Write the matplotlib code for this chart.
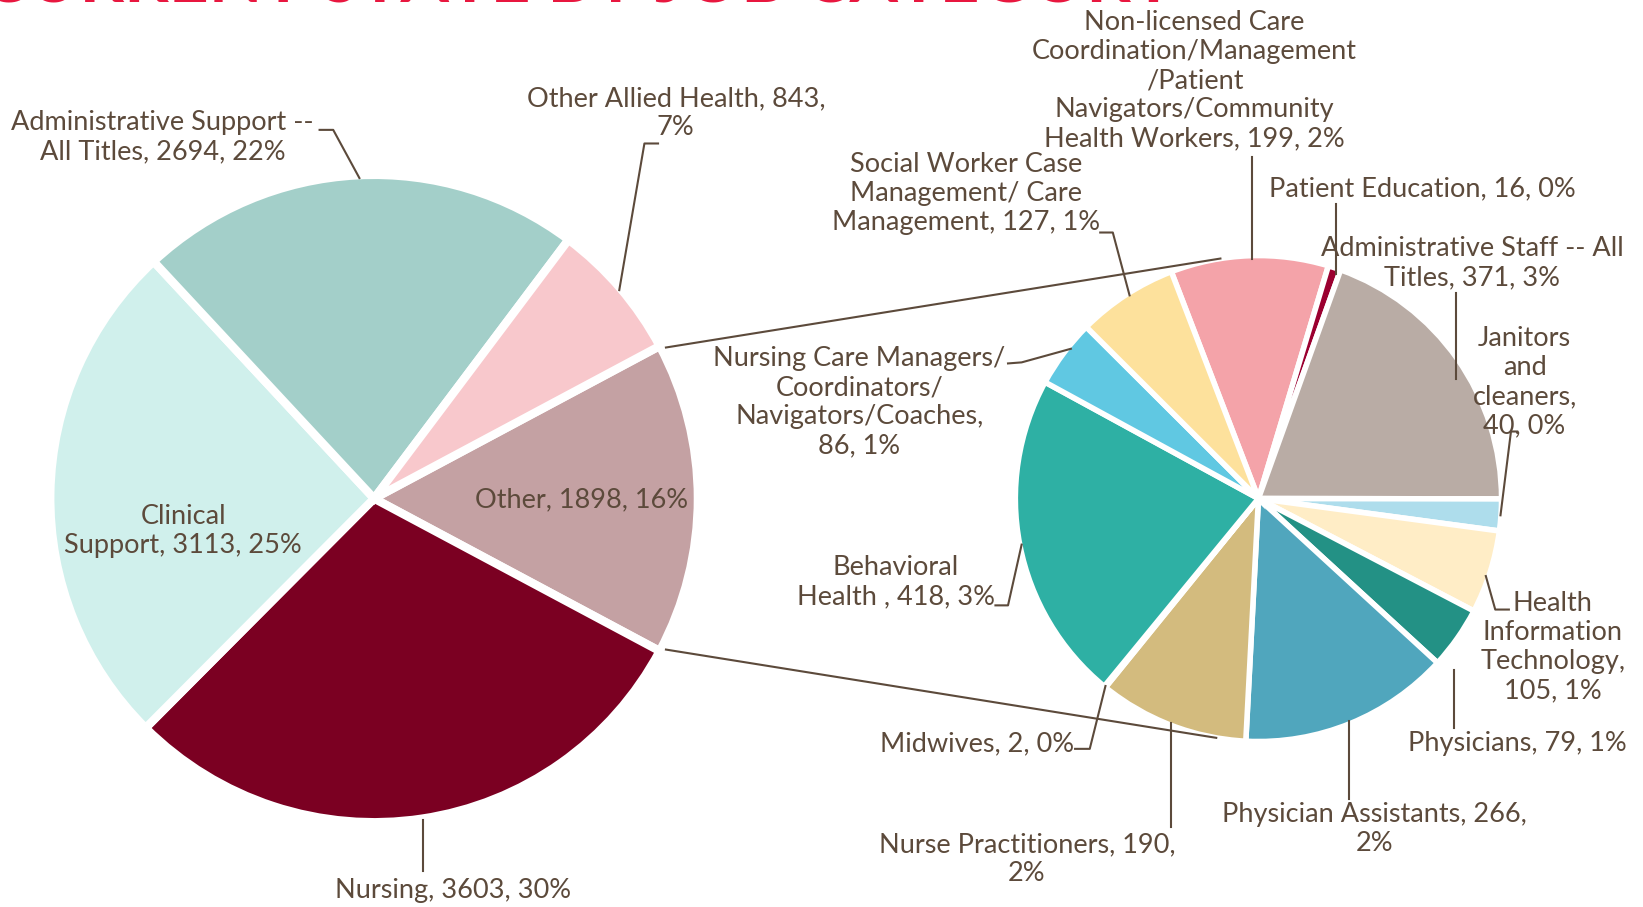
import matplotlib
matplotlib.use("Agg")
import matplotlib.pyplot as plt
import numpy as np

# main pie
main_names = ["Other", "Nursing", "Clinical Support", "Administrative Support -- All Titles", "Other Allied Health"]
main_values = [1898, 3603, 3113, 2694, 843]
main_pcts = [16, 30, 25, 22, 7]
main_colors = ["#C4A1A3", "#7B0022", "#D0F0EC", "#A3CFC9", "#F8C8CC"]

# breakdown of "Other"
sub_names = ["Non-licensed Care Coordination/Management/Patient Navigators/Community Health Workers",
             "Patient Education", "Administrative Staff -- All Titles", "Janitors and cleaners",
             "Health Information Technology", "Physicians", "Physician Assistants",
             "Nurse Practitioners", "Midwives", "Behavioral Health",
             "Nursing Care Managers/ Coordinators/ Navigators/Coaches",
             "Social Worker Case Management/ Care Management"]
sub_values = [199, 16, 371, 40, 105, 79, 266, 190, 2, 418, 86, 127]
sub_pcts = [2, 0, 3, 0, 1, 1, 2, 2, 0, 3, 1, 1]
sub_colors = ["#F4A3A9", "#9B0030", "#B9ACA5", "#AEDDEC", "#FFEDC6", "#239185",
              "#50A6BD", "#D3BB7E", "#F4A3A9", "#2EB0A4", "#60C8E2", "#FDE19C"]

# label text templates (line breaks as in the chart)
main_fmt = ["Other, {v}, {p}%", "Nursing, {v}, {p}%", "Clinical\nSupport, {v}, {p}%",
            "Administrative Support --\nAll Titles, {v}, {p}%", "Other Allied Health, {v},\n{p}%"]
sub_fmt = ["Non-licensed Care\nCoordination/Management\n/Patient\nNavigators/Community\nHealth Workers, {v}, {p}%",
           "Patient Education, {v}, {p}%",
           "Administrative Staff -- All\nTitles, {v}, {p}%",
           "Janitors\nand\ncleaners,\n{v}, {p}%",
           "Health\nInformation\nTechnology,\n{v}, {p}%",
           "Physicians, {v}, {p}%",
           "Physician Assistants, {v},\n{p}%",
           "Nurse Practitioners, {v},\n{p}%",
           "Midwives, {v}, {p}%",
           "Behavioral\nHealth , {v}, {p}%",
           "Nursing Care Managers/\nCoordinators/\nNavigators/Coaches,\n{v}, {p}%",
           "Social Worker Case\nManagement/ Care\nManagement, {v}, {p}%"]

# layout (image coords, y down, 1568x866 frame)
W, H = 1568, 866
main_pos = [(555, 477), (432, 850), (175, 507), (155, 131), (645, 108)]
main_lead = [None, [(404, 783), (404, 832)], None,
             [(305, 124), (318, 124), (343, 170)],
             [(628, 137), (615, 137), (591, 277)]]
sub_pos = [(1140, 77), (1357, 180), (1405, 251), (1455, 365), (1482, 618), (1448, 710),
           (1312, 792), (980, 820), (932, 710), (855, 556), (820, 384), (922, 185)]
sub_lead = [[(1195, 150), (1195, 247)],
            [(1275, 195), (1275, 262)],
            [(1390, 280), (1390, 362)],
            [(1448, 412), (1442, 412), (1432, 492)],
            [(1440, 582), (1427, 582), (1418, 550)],
            [(1388, 695), (1388, 640)],
            [(1287, 763), (1287, 688)],
            [(1118, 790), (1118, 690)],
            [(1026, 715), (1040, 715), (1055, 655)],
            [(950, 578), (962, 578), (975, 520)],
            [(962, 347), (975, 346), (1022, 333)],
            [(1050, 222), (1062, 222), (1078, 282)]]

txt_color = "#5C4A3B"
fam = ["Lato", "DejaVu Sans"]
fs = 19.5

fig = plt.figure(figsize=(16.43, 9.07), dpi=100)
ax = fig.add_axes([0, 0, 1, 1])

c1 = (357, H - 476)
r1 = 309
c2 = (1201, H - 476)
r2 = 232
ex1 = 0.028

other_angle = main_values[0] / sum(main_values) * 360
ax.pie(main_values, colors=main_colors, startangle=other_angle / 2, counterclock=False,
       center=c1, radius=r1, explode=[ex1] * len(main_values),
       wedgeprops=dict(edgecolor="white", linewidth=6))
ax.pie(sub_values, colors=sub_colors, startangle=111, counterclock=False,
       center=c2, radius=r2, explode=[0.01] * len(sub_values),
       wedgeprops=dict(edgecolor="white", linewidth=4))

# connector lines from the "Other" slice to the breakdown pie
off = ex1 * r1
a = np.deg2rad(other_angle / 2)
p_top = (c1[0] + off + (r1 - 3) * np.cos(a), c1[1] + (r1 - 3) * np.sin(a))
p_bot = (c1[0] + off + (r1 - 3) * np.cos(a), c1[1] - (r1 - 3) * np.sin(a))
q_top = (c2[0] + r2 * np.cos(np.deg2rad(99)), c2[1] + r2 * np.sin(np.deg2rad(99)))
q_bot = (c2[0] + r2 * np.cos(np.deg2rad(-100)), c2[1] + r2 * np.sin(np.deg2rad(-100)))
ax.plot([p_top[0], q_top[0]], [p_top[1], q_top[1]], color=txt_color, lw=1.5)
ax.plot([p_bot[0], q_bot[0]], [p_bot[1], q_bot[1]], color=txt_color, lw=1.5)

def put_labels(fmts, vals, pcts, pos, leads):
    for f, v, p, (x, y), ld in zip(fmts, vals, pcts, pos, leads):
        ax.text(x, H - y, f.format(v=v, p=p), ha="center", va="center", color=txt_color,
                fontsize=fs, family=fam, linespacing=1.2)
        if ld:
            ax.plot([q[0] for q in ld], [H - q[1] for q in ld], color=txt_color, lw=1.5)

put_labels(main_fmt, main_values, main_pcts, main_pos, main_lead)
put_labels(sub_fmt, sub_values, sub_pcts, sub_pos, sub_lead)

# title, mostly cut off at the top
ax.text(553, H - 2.5, "CURRENT STATE BY JOB CATEGORY", ha="center", va="baseline",
        color="#E8173F", fontsize=50, fontweight="bold", family="Lato")

ax.set_xlim(0, W)
ax.set_ylim(0, H)
ax.set_aspect("auto")
ax.axis("off")

fig.savefig("out.png", dpi=100)
